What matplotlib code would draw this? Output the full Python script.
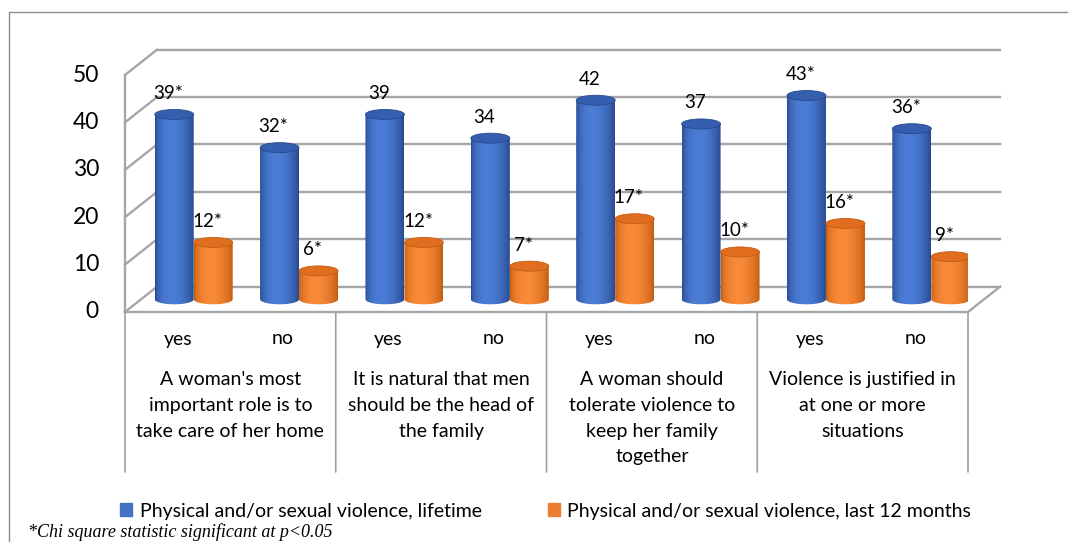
import numpy as np
import matplotlib
matplotlib.use("Agg")
import matplotlib.pyplot as plt
from matplotlib.patches import Ellipse, Polygon, Patch
from matplotlib.lines import Line2D
from matplotlib.colors import to_rgb

# survey data: share of women reporting violence, by attitude (yes/no)
groups = ["A woman's most\nimportant role is to\ntake care of her home",
          "It is natural that men\nshould be the head of\nthe family",
          "A woman should\ntolerate violence to\nkeep her family\ntogether",
          "Violence is justified in\nat one or more\nsituations"]
answers = ["yes", "no"]
lifetime = [39, 32, 39, 34, 42, 37, 43, 36]
last12 = [12, 6, 12, 7, 17, 10, 16, 9]
lifetime_lbl = ["39*", "32*", "39", "34", "42", "37", "43*", "36*"]
last12_lbl = ["12*", "6*", "12*", "7*", "17*", "10*", "16*", "9*"]
yticks = [0, 10, 20, 30, 40, 50]
series_names = ["Physical and/or sexual violence, lifetime",
                "Physical and/or sexual violence, last 12 months"]

FONT = "Lato"
GRID = "#a6a6a6"

# depth of the fake 3d box (data units) and cylinder geometry
DX, DY = 0.304, 5.35
BW = 0.37
EH = 2.1

W, H = 1068, 542
fig = plt.figure(figsize=(W / 100, H / 100), dpi=100)
ax = fig.add_axes([125 / W, (H - 312) / H, 843 / W, 237 / H])
ax.set_xlim(0, 8)
ax.set_ylim(0, 50)
ax.axis("off")

n = len(lifetime)

# walls and floor
for v in yticks:
    ax.plot([DX, n + DX], [v + DY, v + DY], color=GRID, lw=1.7, clip_on=False, zorder=1)
    ax.plot([0, DX], [v, v + DY], color=GRID, lw=1.7, clip_on=False, zorder=1)
ax.plot([0, 0], [0, 50], color=GRID, lw=1.7, clip_on=False, zorder=1)
ax.plot([0, n, n + DX], [0, 0, DY], color=GRID, lw=1.7, clip_on=False, zorder=1)

for v in yticks:
    ax.annotate(str(v), xy=(0, v), xytext=(-26, 0), textcoords="offset pixels",
                ha="right", va="center", fontsize=16.5, family=FONT, annotation_clip=False)


def shade(edge, light, n=64):
    t = np.linspace(0, 1, n)
    w = np.sin(np.pi * t ** 0.8) ** 0.7
    e = np.array(to_rgb(edge))
    l = np.array(to_rgb(light))
    return (e[None, :] * (1 - w[:, None]) + l[None, :] * w[:, None])[None, :, :]


def cylinder(cx, val, edge, light, top):
    x0, x1 = cx - BW / 2, cx + BW / 2
    base = DY / 2
    tip = val + DY / 2
    t = np.linspace(np.pi, 2 * np.pi, 40)
    pts = [(x0, tip), (x0, base)]
    pts += list(zip(cx + BW / 2 * np.cos(t), base + EH / 2 * np.sin(t)))
    pts += [(x1, base), (x1, tip)]
    body = Polygon(pts, closed=True, facecolor="none", edgecolor="none", transform=ax.transData)
    ax.add_patch(body)
    im = ax.imshow(shade(edge, light), extent=[x0, x1, base - EH, tip],
                   aspect="auto", interpolation="bilinear", zorder=3)
    im.set_clip_path(body)
    ax.add_patch(Ellipse((cx, tip), BW, EH, facecolor=top, edgecolor=edge,
                         lw=0.6, zorder=4))


for i in range(n):
    c = i + 0.5 + DX / 2
    cb, co = c - BW / 2, c + BW / 2
    cylinder(cb, lifetime[i], "#26488c", "#4b7dd6", "#355fae")
    cylinder(co, last12[i], "#c25b10", "#f88a38", "#e16e1e")
    ax.annotate(lifetime_lbl[i], xy=(cb, lifetime[i] + DY / 2), xytext=(-6, 21),
                textcoords="offset pixels", ha="center", va="center",
                fontsize=13.5, family=FONT, zorder=6)
    ax.annotate(last12_lbl[i], xy=(co, last12[i] + DY / 2), xytext=(-6, 21),
                textcoords="offset pixels", ha="center", va="center",
                fontsize=13.5, family=FONT, zorder=6)
    ax.annotate(answers[i % 2], xy=(i + 0.5, 0), xytext=(0, -27),
                textcoords="offset pixels", ha="center", va="center",
                fontsize=14, family=FONT, annotation_clip=False)

ax.set_xlim(0, 8)
ax.set_ylim(0, 50)

# category dividers and group labels under the floor
for g in range(len(groups) + 1):
    ax.annotate("", xy=(2 * g, 0), xytext=(0, -160), textcoords="offset pixels",
                arrowprops=dict(arrowstyle="-", color="#a0a0a0", lw=1.2,
                                shrinkA=0, shrinkB=0), annotation_clip=False)
for g, name in enumerate(groups):
    ax.annotate(name, xy=(2 * g + 1, 0), xytext=(0, -59), textcoords="offset pixels",
                ha="center", va="top", fontsize=14, family=FONT,
                linespacing=1.63, annotation_clip=False)

handles = [Patch(color="#4472c4"), Patch(color="#ed7d31")]
fig.legend(handles, series_names, loc="center", bbox_to_anchor=(0.511, (H - 511) / H),
           ncol=2, frameon=False, prop=dict(family=FONT, size=14),
           handlelength=0.6, handleheight=0.6, handletextpad=0.4, columnspacing=3.4)

fig.text(28 / W, (H - 541) / H, "*Chi square statistic significant at p<0.05",
         family="Liberation Serif", style="italic", fontsize=13, va="bottom")

# outer frame of the chart area
fig.add_artist(Line2D([9 / W, 9 / W, 1], [0, (H - 12) / H, (H - 12) / H],
                      color="#8c8c8c", lw=1, transform=fig.transFigure))

fig.savefig("out.png", dpi=100)
